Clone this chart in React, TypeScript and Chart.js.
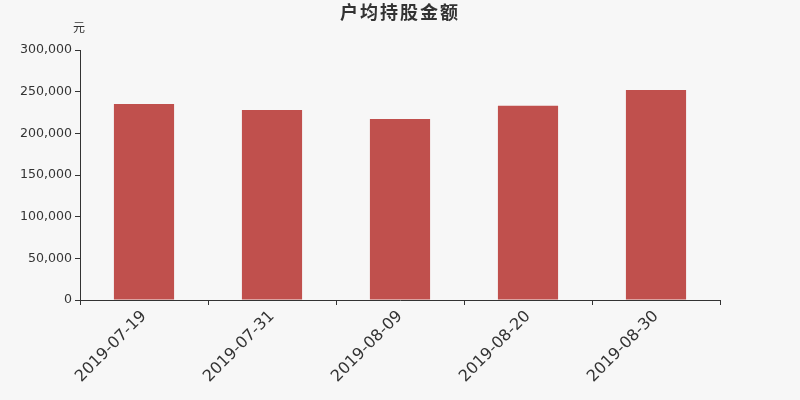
import { Chart, registerables, Plugin } from "chart.js";
import { useEffect, useRef } from "react";

Chart.register(...registerables);

const title = "户均持股金额";
const unit = "元";
const dates = ["2019-07-19", "2019-07-31", "2019-08-09", "2019-08-20", "2019-08-30"];
const amounts = [235200, 228000, 217200, 233200, 252000];

const FONT = "'DejaVu Sans', 'Noto Sans CJK SC', sans-serif";

const headerPlugin: Plugin = {
	id: "header",
	afterDraw(chart) {
		const ctx = chart.ctx;
		ctx.save();
		ctx.fillStyle = "#333";
		ctx.textAlign = "center";
		ctx.textBaseline = "middle";
		ctx.font = `bold 18px ${FONT}`;
		(ctx as any).letterSpacing = "2px";
		ctx.fillText(title, 400, 14);
		(ctx as any).letterSpacing = "0px";
		ctx.font = `12px ${FONT}`;
		ctx.fillText(unit, chart.chartArea.left - 1, 29);
		ctx.restore();
	}
};

const bgPlugin: Plugin = {
	id: "bg",
	beforeDraw(chart) {
		const ctx = chart.ctx;
		ctx.save();
		ctx.fillStyle = "#f7f7f7";
		ctx.fillRect(0, 0, chart.width, chart.height);
		ctx.restore();
	}
};

export default function App() {
	const chartRef = useRef<HTMLCanvasElement>(null);
	useEffect(() => {
		document.body.style.margin = "0";
		if (chartRef.current == null) {
			return;
		}
		const chart = new Chart(chartRef.current, {
			type: "bar",
			data: {
				labels: dates,
				datasets: [{
					label: title,
					data: amounts,
					backgroundColor: "#c0504d",
					barPercentage: 0.47,
					categoryPercentage: 1,
				}]
			},
			options: {
				animation: false,
				responsive: false,
				layout: { padding: { top: 50, right: 80, left: 0, bottom: 0 } },
				plugins: {
					legend: { display: false },
					title: { display: false },
					tooltip: { enabled: false },
				},
				scales: {
					x: {
						afterFit: (scale: any) => { scale.height = 100; },
						grid: { drawOnChartArea: false, offset: true, tickLength: 5, color: "#333" },
						border: { color: "#333" },
						ticks: {
							maxRotation: 45,
							minRotation: 45,
							padding: 2,
							color: "#333",
							font: { family: FONT, size: 16 },
						},
					},
					y: {
						min: 0,
						max: 300000,
						afterFit: (scale: any) => { scale.width = 80; },
						grid: { drawOnChartArea: false, tickLength: 5, color: "#333" },
						border: { color: "#333" },
						ticks: {
							stepSize: 50000,
							padding: 3,
							color: "#333",
							font: { family: FONT, size: 12.6 },
							callback: (v: any) => Number(v).toLocaleString("en-US"),
						},
					},
				},
			},
			plugins: [bgPlugin, headerPlugin],
		});
		return () => {
			chart.destroy();
		};
	}, []);

	return (
		<div style={{ width: 800, height: 400 }}>
			<canvas ref={chartRef} width={800} height={400} style={{ display: "block" }} />
		</div>
	);
}
